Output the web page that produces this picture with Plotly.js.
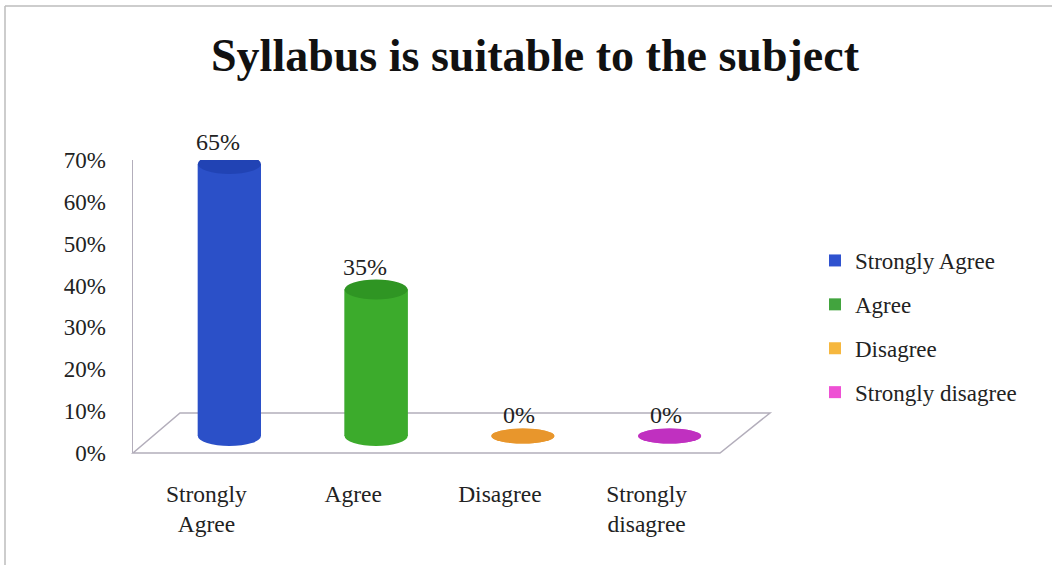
<!DOCTYPE html>
<html>
<head>
<meta charset="utf-8">
<script src="https://cdn.plot.ly/plotly-3.0.1.min.js"></script>
<style>html,body{margin:0;padding:0;background:#fff;}#chart{width:1052px;height:565px;}</style>
</head>
<body>
<div id="chart"></div>
<script>
// ---- data ----
const categories = ["Strongly Agree", "Agree", "Disagree", "Strongly disagree"];
const tickLabels = ["Strongly<br>Agree", "Agree", "Disagree", "Strongly<br>disagree"];
const values = [65, 35, 0, 0];
const valueLabels = ["65%", "35%", "0%", "0%"];
const yTicks = [0, 10, 20, 30, 40, 50, 60, 70];
const yTickLabels = ["0%", "10%", "20%", "30%", "40%", "50%", "60%", "70%"];

// ---- style ----
const bodyColors = ["#2b50c8", "#3cab2c", "#f0a33a", "#cc3ecc"];
const capColors  = ["#2143b4", "#2f9523", "#e8962c", "#c030c0"];
const legendColors = ["#2f52cf", "#42a43e", "#f6b73e", "#ee50d4"];
const FONT = "'Liberation Serif', 'Times New Roman', serif";

// plot area in pixels
const L = 133, R = 720, T = 160, B = 453, W = 1052, H = 565;
const pw = R - L, ph = B - T;
const px = x => (x - L) / pw;
const py = y => (B - y) / ph;

// depth offset of bars (3D look)
const dxPx = 23, dyPx = 17;
const unitX = pw / 4, unitY = ph / 70;
const dxU = dxPx / unitX, dyU = dyPx / unitY;
const barW = 0.43, capH = 2.4;

const traces = [];
// invisible trace to anchor the visible axes
traces.push({
  type: "scatter", mode: "markers", x: tickLabels, y: values,
  marker: { opacity: 0 }, showlegend: false, hoverinfo: "skip"
});
categories.forEach((c, i) => {
  traces.push({
    type: "bar", name: c, x: [tickLabels[i]], y: [values[i]],
    xaxis: "x2", yaxis: "y2", width: barW,
    marker: { color: legendColors[i], line: { width: 0 } },
    legendgroup: "g" + i, hoverinfo: "skip"
  });
});
// body colour overlay without legend (legend swatch keeps legend colour)
categories.forEach((c, i) => {
  traces.push({
    type: "bar", x: [tickLabels[i]], y: [values[i]],
    xaxis: "x2", yaxis: "y2", width: barW,
    marker: { color: bodyColors[i], line: { width: 0 } },
    showlegend: false, hoverinfo: "skip"
  });
});

const shapes = [];
// outer frame
shapes.push({ type: "line", xref: "paper", yref: "paper", x0: px(5), x1: px(W), y0: py(6), y1: py(6), line: { color: "#bdbdbd", width: 1.5 } });
shapes.push({ type: "line", xref: "paper", yref: "paper", x0: px(5), x1: px(5), y0: py(6), y1: py(H), line: { color: "#bdbdbd", width: 1.5 } });
// floor
shapes.push({
  type: "path", xref: "paper", yref: "paper", layer: "below",
  path: `M ${px(L)} ${py(B)} L ${px(R)} ${py(B)} L ${px(R + 50)} ${py(B - 40)} L ${px(L + 47)} ${py(B - 40)} Z`,
  line: { color: "#b3aebb", width: 1.5 }
});
// cylinder bottoms and caps
values.forEach((v, i) => {
  const h = v === 0 ? capH * 0.75 : capH;
  shapes.push({ type: "circle", xref: "x2", yref: "y2", layer: "below",
    x0: i - barW / 2, x1: i + barW / 2, y0: -h, y1: h,
    fillcolor: bodyColors[i], line: { width: 0 } });
  shapes.push({ type: "circle", xref: "x2", yref: "y2", layer: "above",
    x0: i - barW / 2, x1: i + barW / 2, y0: v - h, y1: v + h,
    fillcolor: capColors[i], line: { width: 0 } });
});

const annotations = values.map((v, i) => ({
  xref: "x2", yref: "y2", x: i, y: v,
  text: valueLabels[i], showarrow: false,
  xanchor: "center", yanchor: "bottom",
  xshift: i < 2 ? -11 : -4, yshift: i < 2 ? capH * unitY - 3 : 6,
  font: { family: FONT, size: 24, color: "#222" }
}));

const layout = {
  width: W, height: H,
  margin: { l: L, r: W - R, t: T, b: H - B, pad: 0 },
  paper_bgcolor: "#fff", plot_bgcolor: "rgba(0,0,0,0)",
  barmode: "overlay",
  title: {
    text: "<b>Syllabus is suitable to the subject</b>",
    font: { family: FONT, size: 46, color: "#111" },
    xref: "container", x: 535 / W, xanchor: "center",
    yref: "container", y: 1 - 55 / H, yanchor: "middle"
  },
  xaxis: {
    type: "category", categoryarray: tickLabels, categoryorder: "array",
    range: [-0.5, 3.5], showgrid: false, zeroline: false, showline: false,
    ticks: "", ticklabelstandoff: 24,
    tickfont: { family: FONT, size: 23.5, color: "#222" }
  },
  xaxis2: {
    type: "category", categoryarray: tickLabels, categoryorder: "array",
    overlaying: "x", range: [-0.5 - dxU, 3.5 - dxU], visible: false
  },
  yaxis: {
    range: [0, 70], tickmode: "array", tickvals: yTicks, ticktext: yTickLabels,
    showgrid: false, zeroline: false, showline: true, linecolor: "#b3aebb", linewidth: 1.5,
    ticks: "", ticklabelstandoff: 21,
    tickfont: { family: FONT, size: 23, color: "#222" }
  },
  yaxis2: {
    overlaying: "y", range: [-dyU, 70 - dyU], visible: false
  },
  showlegend: true,
  legend: {
    x: px(815), xanchor: "left", y: py(239), yanchor: "top",
    font: { family: FONT, size: 23, color: "#222" },
    tracegroupgap: 11, itemwidth: 30, bgcolor: "rgba(0,0,0,0)"
  },
  shapes: shapes,
  annotations: annotations
};

Plotly.newPlot("chart", traces, layout, { staticPlot: true, displayModeBar: false });
</script>
</body>
</html>
